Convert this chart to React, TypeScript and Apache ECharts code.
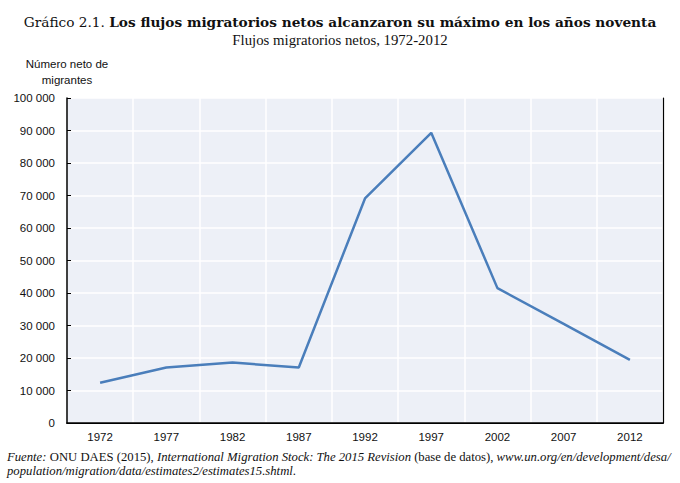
import React, { useEffect, useRef } from "react";
import * as echarts from "echarts";

const years = ["1972", "1977", "1982", "1987", "1992", "1997", "2002", "2007", "2012"];
const netMigrants = [12400, 17100, 18600, 17100, 69100, 89300, 41500, 30500, 19400];
const titleLead = "Gráfico 2.1. ";
const titleMain = "Los flujos migratorios netos alcanzaron su máximo en los años noventa";
const subtitle = "Flujos migratorios netos, 1972-2012";
const yAxisName = "Número neto de\nmigrantes";

const SERIF = "'Liberation Serif', 'Times New Roman', serif";
const SLAB = "'DejaVu Serif', serif";
const SANS = "'Liberation Sans', Arial, sans-serif";

const fmt = (v: number) => String(v).replace(/\B(?=(\d{3})+(?!\d))/g, " ");

export default function App() {
  const ref = useRef<HTMLDivElement>(null);
  useEffect(() => {
    document.body.style.margin = "0";
    if (!ref.current) return;
    const chart = echarts.init(ref.current, null, { renderer: "svg" });
    chart.setOption({
      animation: false,
      backgroundColor: "#ffffff",
      title: [
        {
          text: `{n|${titleLead}}{b|${titleMain}}`,
          left: "center",
          top: 13,
          padding: 0,
          textStyle: {
            rich: {
              n: { fontFamily: SLAB, fontSize: 13.7, fontWeight: "normal", color: "#111", lineHeight: 18 },
              b: { fontFamily: SLAB, fontSize: 13.7, fontWeight: "bold", color: "#111", lineHeight: 18 },
            },
          },
        },
        {
          text: subtitle,
          left: "center",
          top: 32,
          padding: 0,
          textStyle: { fontFamily: SERIF, fontSize: 14.8, fontWeight: "normal", color: "#111", lineHeight: 16 },
        },
      ],
      grid: {
        left: 67,
        right: 17,
        top: 98,
        bottom: 60,
        show: true,
        backgroundColor: "#EDF0F7",
        borderWidth: 0,
      },
      xAxis: [
        {
          type: "category",
          data: years,
          boundaryGap: true,
          axisLine: { lineStyle: { color: "#000", width: 1.5 } },
          axisTick: { inside: true, length: 4, lineStyle: { color: "#000", width: 1 } },
          axisLabel: { color: "#111", fontFamily: SANS, fontSize: 11.5, margin: 8 },
          splitLine: { show: true, lineStyle: { color: "#ffffff", width: 1.5 } },
        },
        {
          type: "category",
          data: years,
          position: "top",
          axisLine: { show: true, lineStyle: { color: "#000", width: 1.2 } },
          axisTick: { show: false },
          axisLabel: { show: false },
          splitLine: { show: false },
        },
      ],
      yAxis: [
        {
          type: "value",
          min: 0,
          max: 100000,
          interval: 10000,
          name: yAxisName,
          nameLocation: "end",
          nameGap: 10,
          nameTextStyle: { fontFamily: SANS, fontSize: 11.5, color: "#111", align: "center", lineHeight: 15.7 },
          axisLine: { show: true, lineStyle: { color: "#000", width: 1.5 } },
          axisTick: { show: true, inside: true, length: 4, lineStyle: { color: "#000", width: 1 } },
          axisLabel: { color: "#111", fontFamily: SANS, fontSize: 11.5, margin: 12, formatter: (v: number) => fmt(v) },
          splitLine: { show: true, lineStyle: { color: "#ffffff", width: 1.5 } },
        },
        {
          type: "value",
          min: 0,
          max: 100000,
          interval: 10000,
          position: "right",
          axisLine: { show: true, lineStyle: { color: "#000", width: 1.2 } },
          axisTick: { show: false },
          axisLabel: { show: false },
          splitLine: { show: false },
        },
      ],
      series: [
        {
          type: "line",
          data: netMigrants,
          xAxisIndex: 0,
          yAxisIndex: 0,
          showSymbol: false,
          symbol: "none",
          lineStyle: { color: "#4A7EBB", width: 2.5 },
          z: 3,
        },
      ],
      graphic: [
        {
          type: "text",
          left: 7,
          top: 450,
          style: {
            text:
              "{i|Fuente:} {n|ONU DAES (2015), }{i|International Migration Stock: The 2015 Revision}{n| (base de datos), }{i|www.un.org/en/development/desa/}\n{i|population/migration/data/estimates2/estimates15.shtml}{n|.}",
            rich: {
              i: { fontFamily: SERIF, fontSize: 12.7, fontStyle: "italic", fill: "#111", lineHeight: 14 },
              n: { fontFamily: SERIF, fontSize: 12.7, fontStyle: "normal", fill: "#111", lineHeight: 14 },
            },
          },
        },
      ],
    });
    return () => chart.dispose();
  }, []);
  return <div ref={ref} style={{ width: 680, height: 483 }} />;
}
